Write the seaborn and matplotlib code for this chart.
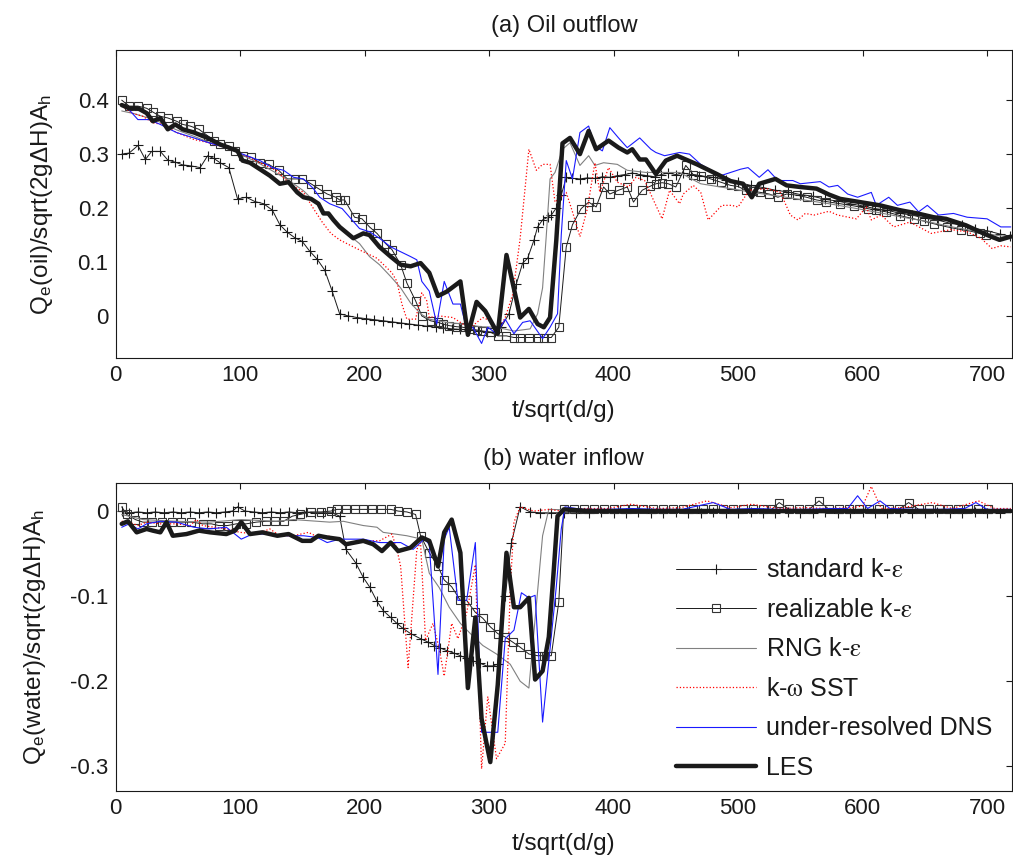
import numpy as np
import seaborn as sns
import matplotlib
matplotlib.use('Agg')
import matplotlib.pyplot as plt
from matplotlib.lines import Line2D

# %% data: (t/sqrt(d/g), Q) pairs
# (a) oil outflow
std_oil = [(5, 0.300), (11, 0.302), (18, 0.316), (24, 0.290), (29, 0.305), (36, 0.305), (42, 0.289), (48, 0.285),
           (54, 0.280), (61, 0.278), (68, 0.275), (74, 0.297), (79, 0.292), (84, 0.284), (91, 0.275), (98, 0.217),
           (105, 0.220), (112, 0.212), (119, 0.208), (126, 0.196), (132, 0.169), (138, 0.155), (144, 0.145),
           (150, 0.138), (156, 0.120), (162, 0.105), (168, 0.085), (174, 0.046), (180, 0.004), (187, 0.000),
           (194, -0.003), (201, -0.005), (208, -0.007), (215, -0.009), (222, -0.011), (229, -0.013), (236, -0.015),
           (243, -0.017), (250, -0.019), (257, -0.021), (263, -0.022), (270, -0.024), (277, -0.025), (284, -0.026),
           (291, -0.028), (298, -0.030), (305, -0.030), (310, -0.020), (316, 0.004), (322, 0.060), (327, 0.098),
           (331, 0.107), (336, 0.140), (339, 0.165), (343, 0.178), (347, 0.183), (350, 0.187), (354, 0.200),
           (358, 0.224), (362, 0.257), (367, 0.255), (373, 0.254), (379, 0.256), (385, 0.255), (391, 0.258),
           (397, 0.257), (403, 0.260), (409, 0.262), (415, 0.265), (421, 0.262), (427, 0.260), (433, 0.258),
           (438, 0.262), (444, 0.265), (450, 0.262), (456, 0.265), (462, 0.262), (469, 0.260), (480, 0.257),
           (490, 0.252), (500, 0.248), (510, 0.242), (520, 0.238), (530, 0.233), (540, 0.230), (550, 0.225),
           (560, 0.222), (570, 0.216), (580, 0.213), (590, 0.208), (600, 0.204), (610, 0.199), (620, 0.196),
           (630, 0.190), (640, 0.187), (650, 0.181), (660, 0.178), (670, 0.172), (680, 0.168), (690, 0.162),
           (700, 0.158), (710, 0.152), (718, 0.148)]
real_oil = [(5, 0.400), (11, 0.389), (18, 0.389), (25, 0.385), (30, 0.378), (36, 0.370), (42, 0.367), (49, 0.361),
            (54, 0.355), (60, 0.352), (67, 0.346), (74, 0.334), (79, 0.325), (84, 0.318), (91, 0.315), (96, 0.306),
            (102, 0.297), (109, 0.294), (116, 0.284), (123, 0.281), (131, 0.270), (138, 0.254), (144, 0.254),
            (150, 0.254), (157, 0.245), (163, 0.236), (170, 0.226), (177, 0.220), (180, 0.215), (184, 0.215),
            (192, 0.183), (198, 0.180), (204, 0.165), (210, 0.153), (217, 0.134), (222, 0.123), (229, 0.095),
            (234, 0.061), (241, 0.028), (246, 0.000), (253, -0.009), (259, -0.012), (263, -0.015), (268, -0.018),
            (274, -0.020), (279, -0.021), (285, -0.024), (290, -0.026), (295, -0.028), (301, -0.030), (307, -0.037),
            (314, -0.037), (320, -0.040), (325, -0.040), (332, -0.040), (339, -0.040), (344, -0.040), (350, -0.040),
            (356, -0.021), (362, 0.128), (367, 0.169), (374, 0.199), (380, 0.211), (386, 0.202), (392, 0.239),
            (397, 0.226), (404, 0.233), (411, 0.239), (416, 0.211), (423, 0.233), (429, 0.240), (434, 0.245),
            (439, 0.247), (444, 0.245), (450, 0.239), (458, 0.279), (464, 0.262), (470, 0.260), (478, 0.254),
            (486, 0.248), (494, 0.242), (500, 0.240), (506, 0.233), (512, 0.231), (518, 0.229), (525, 0.226),
            (532, 0.220), (539, 0.226), (547, 0.224), (555, 0.220), (563, 0.215), (571, 0.212), (582, 0.208),
            (593, 0.204), (604, 0.199), (611, 0.196), (619, 0.193), (630, 0.186), (641, 0.180), (649, 0.176),
            (657, 0.171), (668, 0.165), (679, 0.160), (687, 0.157), (694, 0.153), (699, 0.150)]
rng_oil = [(5, 0.380), (15, 0.375), (25, 0.368), (35, 0.360), (49, 0.345), (63, 0.333), (75, 0.322), (89, 0.312),
           (102, 0.298), (116, 0.282), (129, 0.265), (140, 0.250), (151, 0.232), (163, 0.205), (172, 0.183),
           (182, 0.160), (196, 0.134), (204, 0.110), (212, 0.095), (221, 0.073), (229, 0.052), (237, 0.024),
           (245, 0.004), (252, -0.006), (266, -0.012), (279, -0.015), (293, -0.020), (306, -0.021), (320, -0.028),
           (333, -0.024), (339, 0.004), (343, 0.052), (346, 0.150), (349, 0.254), (353, 0.266), (359, 0.309),
           (365, 0.321), (373, 0.279), (380, 0.297), (385, 0.279), (392, 0.284), (403, 0.281), (411, 0.270),
           (426, 0.266), (453, 0.266), (470, 0.245), (494, 0.236), (514, 0.228), (533, 0.222), (553, 0.215),
           (573, 0.208), (593, 0.200), (612, 0.192), (632, 0.183), (652, 0.175), (672, 0.165), (691, 0.157),
           (706, 0.150), (719, 0.146)]
sst_oil = [(5, 0.390), (13, 0.376), (22, 0.370), (30, 0.358), (38, 0.355), (49, 0.340), (63, 0.327), (75, 0.321),
           (89, 0.312), (102, 0.300), (116, 0.284), (129, 0.270), (140, 0.245), (151, 0.229), (159, 0.199),
           (166, 0.174), (173, 0.153), (180, 0.141), (191, 0.128), (199, 0.119), (210, 0.107), (222, 0.080),
           (226, 0.064), (230, 0.022), (234, -0.006), (241, -0.006), (246, 0.043), (250, 0.028), (252, -0.003),
           (260, 0.000), (271, -0.003), (279, -0.015), (287, -0.018), (295, -0.003), (301, -0.009), (307, -0.028),
           (313, -0.003), (319, 0.040), (325, 0.144), (332, 0.309), (338, 0.270), (343, 0.281), (349, 0.281),
           (353, 0.211), (362, 0.229), (367, 0.193), (373, 0.147), (379, 0.199), (385, 0.284), (389, 0.229),
           (396, 0.275), (403, 0.248), (412, 0.239), (418, 0.257), (425, 0.251), (432, 0.215), (439, 0.180),
           (445, 0.233), (453, 0.208), (456, 0.226), (464, 0.242), (470, 0.229), (476, 0.178), (487, 0.205),
           (495, 0.205), (500, 0.202), (509, 0.233), (523, 0.236), (534, 0.229), (542, 0.187), (548, 0.178),
           (554, 0.190), (561, 0.187), (573, 0.194), (580, 0.187), (595, 0.180), (603, 0.202), (607, 0.178),
           (615, 0.187), (625, 0.165), (638, 0.174), (655, 0.153), (671, 0.160), (684, 0.156), (695, 0.144),
           (704, 0.125), (711, 0.130), (719, 0.128)]
dns_oil = [(5, 0.390), (11, 0.382), (18, 0.364), (27, 0.364), (36, 0.355), (49, 0.340), (63, 0.330), (75, 0.321),
           (89, 0.312), (102, 0.300), (116, 0.288), (126, 0.275), (135, 0.270), (143, 0.257), (151, 0.254),
           (159, 0.236), (164, 0.220), (172, 0.208), (182, 0.199), (196, 0.162), (204, 0.156), (212, 0.144),
           (221, 0.128), (229, 0.119), (237, 0.110), (242, 0.104), (246, 0.064), (252, 0.046), (258, -0.015),
           (264, 0.064), (271, 0.022), (277, 0.022), (282, -0.024), (287, -0.021), (294, -0.051), (299, -0.021),
           (306, -0.033), (313, -0.006), (320, -0.033), (327, -0.012), (333, -0.009), (343, -0.042), (349, -0.021),
           (355, 0.004), (358, 0.150), (362, 0.288), (367, 0.254), (373, 0.340), (380, 0.352), (385, 0.315),
           (391, 0.306), (397, 0.349), (404, 0.330), (411, 0.312), (421, 0.330), (430, 0.309), (434, 0.303),
           (441, 0.297), (453, 0.303), (461, 0.300), (470, 0.281), (486, 0.260), (502, 0.272), (508, 0.275),
           (517, 0.257), (524, 0.271), (532, 0.251), (544, 0.251), (550, 0.245), (566, 0.249), (573, 0.239),
           (580, 0.242), (588, 0.226), (596, 0.220), (607, 0.229), (611, 0.205), (621, 0.220), (628, 0.205),
           (638, 0.211), (645, 0.193), (652, 0.205), (661, 0.187), (673, 0.190), (684, 0.183), (700, 0.180),
           (711, 0.165), (719, 0.165)]
les_oil = [(5, 0.391), (11, 0.385), (18, 0.385), (25, 0.376), (30, 0.361), (36, 0.367), (42, 0.346), (48, 0.355),
           (54, 0.346), (63, 0.340), (74, 0.330), (84, 0.318), (91, 0.312), (98, 0.306), (102, 0.288), (108, 0.284),
           (116, 0.272), (124, 0.260), (132, 0.245), (139, 0.248), (146, 0.229), (151, 0.220), (157, 0.217),
           (163, 0.208), (167, 0.190), (171, 0.190), (175, 0.178), (180, 0.165), (191, 0.144), (199, 0.153),
           (204, 0.150), (212, 0.128), (221, 0.110), (229, 0.095), (237, 0.092), (245, 0.098), (252, 0.080),
           (259, 0.037), (266, 0.045), (277, 0.064), (283, -0.035), (290, 0.026), (297, 0.009), (307, -0.033),
           (314, 0.113), (321, 0.040), (325, -0.003), (332, 0.013), (339, -0.015), (344, -0.021), (349, -0.003),
           (354, 0.140), (359, 0.320), (365, 0.330), (373, 0.300), (380, 0.343), (386, 0.309), (396, 0.325),
           (404, 0.312), (411, 0.303), (415, 0.309), (421, 0.290), (426, 0.290), (434, 0.263), (442, 0.288),
           (451, 0.297), (460, 0.288), (467, 0.281), (475, 0.272), (483, 0.263), (488, 0.257), (494, 0.250),
           (504, 0.245), (511, 0.220), (517, 0.245), (530, 0.254), (539, 0.242), (550, 0.239), (563, 0.236),
           (573, 0.225), (582, 0.217), (598, 0.211), (614, 0.205), (630, 0.196), (644, 0.190), (657, 0.183),
           (667, 0.180), (683, 0.168), (700, 0.150), (710, 0.141), (719, 0.147)]

# (b) water inflow
std_water = [(5, 0.000), (11, -0.002), (18, -0.001), (25, -0.002), (32, -0.001), (39, -0.002), (46, -0.001),
             (53, -0.002), (60, -0.001), (67, -0.002), (74, -0.001), (81, -0.002), (88, -0.001), (94, 0.000),
             (98, 0.005), (104, 0.000), (111, -0.001), (118, -0.002), (125, -0.001), (132, -0.002), (139, -0.001),
             (146, -0.002), (153, -0.001), (160, -0.002), (167, -0.002), (174, -0.002), (180, -0.006), (185, -0.045),
             (193, -0.061), (199, -0.078), (204, -0.089), (210, -0.106), (215, -0.117), (221, -0.125), (226, -0.132),
             (231, -0.138), (237, -0.144), (245, -0.150), (251, -0.154), (256, -0.158), (261, -0.161), (266, -0.164),
             (272, -0.167), (277, -0.170), (282, -0.173), (287, -0.176), (293, -0.179), (298, -0.182), (303, -0.182),
             (307, -0.180), (313, -0.100), (318, -0.037), (325, 0.005), (333, -0.001), (341, -0.002), (350, -0.002),
             (360, -0.002), (370, -0.002), (380, -0.002), (390, -0.001), (400, -0.002), (410, -0.002), (420, -0.001),
             (430, -0.002), (440, -0.002), (450, -0.001), (460, -0.002), (470, -0.002), (480, -0.001), (490, -0.002),
             (500, -0.002), (510, -0.001), (520, -0.002), (530, -0.002), (540, -0.001), (550, -0.002), (560, -0.002),
             (570, -0.001), (580, -0.002), (590, -0.002), (600, -0.001), (610, -0.002), (620, -0.002), (630, -0.001),
             (640, -0.002), (650, -0.002), (660, -0.001), (670, -0.002), (680, -0.002), (690, -0.001), (700, -0.002),
             (710, -0.002)]
real_water = [(5, 0.005), (9, -0.004), (16, -0.010), (22, -0.013), (29, -0.013), (37, -0.013), (45, -0.013),
              (53, -0.013), (61, -0.013), (70, -0.015), (77, -0.015), (83, -0.017), (90, -0.017), (97, -0.015),
              (105, -0.015), (113, -0.013), (121, -0.012), (128, -0.012), (135, -0.012), (142, -0.006), (148, -0.004),
              (157, -0.001), (165, -0.001), (173, 0.000), (178, 0.002), (185, 0.002), (192, 0.002), (199, 0.002),
              (206, 0.002), (213, 0.002), (221, 0.002), (227, 0.000), (234, -0.001), (241, -0.004), (245, -0.029),
              (252, -0.049), (259, -0.065), (264, -0.081), (270, -0.089), (277, -0.105), (282, -0.105), (289, -0.119),
              (295, -0.126), (301, -0.136), (307, -0.144), (313, -0.148), (319, -0.154), (325, -0.160), (332, -0.168),
              (339, -0.170), (344, -0.170), (350, -0.170), (356, -0.107), (360, 0.002), (368, 0.002), (376, 0.002),
              (384, 0.002), (392, 0.002), (400, 0.002), (408, 0.002), (416, 0.002), (424, 0.002), (432, 0.002),
              (440, 0.002), (448, 0.002), (456, 0.002), (464, 0.002), (472, 0.002), (480, 0.002), (488, 0.002),
              (496, 0.002), (504, 0.002), (512, 0.002), (520, 0.002), (527, 0.002), (533, 0.010), (541, 0.002),
              (549, 0.002), (557, 0.002), (565, 0.012), (573, 0.002), (581, 0.002), (589, 0.002), (597, 0.002),
              (605, 0.002), (613, 0.002), (621, 0.002), (629, 0.002), (637, 0.010), (645, 0.002), (653, 0.002),
              (661, 0.002), (669, 0.002), (677, 0.002), (685, 0.002), (693, 0.002), (701, 0.002)]
rng_water = [(5, -0.004), (22, -0.010), (49, -0.012), (75, -0.013), (101, -0.010), (129, -0.012), (143, -0.010),
             (172, -0.013), (183, -0.012), (199, -0.017), (210, -0.019), (215, -0.025), (234, -0.029), (246, -0.033),
             (252, -0.073), (260, -0.090), (268, -0.113), (277, -0.132), (285, -0.144), (295, -0.158), (306, -0.168),
             (317, -0.180), (325, -0.200), (332, -0.208), (343, -0.029), (348, 0.002), (400, 0.000), (500, 0.000),
             (600, 0.000), (719, 0.000)]
sst_water = [(5, -0.012), (11, -0.013), (18, -0.017), (25, -0.013), (36, -0.015), (49, -0.015), (60, -0.017),
             (65, -0.010), (70, -0.017), (89, -0.021), (100, -0.025), (113, -0.027), (124, -0.021), (132, -0.029),
             (143, -0.029), (155, -0.025), (163, -0.031), (170, -0.029), (180, -0.033), (188, -0.039), (199, -0.035),
             (212, -0.035), (222, -0.027), (226, -0.045), (229, -0.065), (235, -0.184), (242, -0.045), (245, -0.037),
             (249, -0.152), (255, -0.132), (260, -0.162), (264, -0.194), (270, -0.132), (275, -0.150), (282, -0.120),
             (289, -0.063), (294, -0.303), (299, -0.218), (306, -0.291), (313, -0.273), (317, -0.093), (320, -0.013),
             (325, 0.005), (336, 0.000), (348, 0.002), (358, 0.000), (375, 0.003), (395, 0.003), (414, 0.008),
             (435, 0.003), (454, 0.004), (475, 0.012), (494, 0.004), (511, 0.008), (533, 0.003), (553, 0.004),
             (573, 0.003), (592, 0.004), (600, 0.006), (607, 0.029), (615, 0.003), (632, 0.004), (656, 0.010),
             (672, 0.003), (693, 0.012), (706, 0.003), (719, 0.003)]
dns_water = [(5, -0.019), (11, -0.015), (18, -0.021), (25, -0.015), (36, -0.012), (49, -0.013), (63, -0.019),
             (75, -0.021), (89, -0.019), (101, -0.033), (110, -0.027), (124, -0.027), (138, -0.029), (151, -0.029),
             (162, -0.031), (170, -0.037), (180, -0.033), (199, -0.033), (212, -0.037), (229, -0.037), (239, -0.045),
             (248, -0.033), (252, -0.039), (259, -0.192), (264, -0.033), (268, -0.019), (275, -0.105), (282, -0.105),
             (289, -0.037), (294, -0.260), (307, -0.260), (313, -0.150), (320, -0.140), (326, -0.096), (332, -0.102),
             (337, -0.099), (343, -0.248), (349, -0.162), (354, -0.089), (358, -0.021), (361, 0.005), (375, 0.002),
             (395, 0.002), (415, 0.003), (435, 0.002), (455, 0.002), (480, 0.010), (494, 0.002), (513, 0.003),
             (533, 0.002), (553, 0.002), (573, 0.003), (588, 0.003), (596, 0.018), (604, 0.003), (614, 0.012),
             (622, 0.003), (642, 0.002), (662, 0.002), (682, 0.003), (691, 0.010), (700, 0.002), (719, 0.002)]
les_water = [(5, -0.015), (10, -0.012), (17, -0.025), (25, -0.021), (30, -0.023), (36, -0.025), (41, -0.013),
             (46, -0.029), (57, -0.027), (67, -0.023), (76, -0.025), (89, -0.027), (96, -0.023), (101, -0.013),
             (108, -0.027), (118, -0.025), (130, -0.029), (139, -0.027), (150, -0.035), (157, -0.035), (163, -0.029),
             (170, -0.031), (180, -0.033), (185, -0.039), (199, -0.035), (207, -0.039), (214, -0.047), (221, -0.037),
             (227, -0.047), (237, -0.043), (246, -0.031), (252, -0.035), (259, -0.065), (264, -0.025), (270, -0.010),
             (277, -0.049), (283, -0.208), (289, -0.125), (294, -0.244), (301, -0.295), (307, -0.204), (314, -0.049),
             (320, -0.113), (325, -0.113), (332, -0.102), (337, -0.198), (343, -0.188), (348, -0.148), (352, -0.069),
             (355, -0.006), (360, 0.002), (380, 0.000), (420, 0.000), (480, 0.000), (560, 0.000), (640, 0.000),
             (719, 0.000)]

labels = ['standard k-$\\mathrm{\\varepsilon}$', 'realizable k-$\\mathrm{\\varepsilon}$',
          'RNG k-$\\mathrm{\\varepsilon}$', 'k-$\\mathrm{\\omega}$ SST', 'under-resolved DNS', 'LES']
xticks = [0, 100, 200, 300, 400, 500, 600, 700]
oil_yticks = [0, 0.1, 0.2, 0.3, 0.4]
water_yticks = [-0.3, -0.2, -0.1, 0]

# %% style
sns.set_theme(style='white')
plt.rcParams['font.family'] = ['Liberation Sans', 'DejaVu Sans']
plt.rcParams['mathtext.fontset'] = 'stix'
plt.rcParams['axes.unicode_minus'] = False
plt.rcParams['text.color'] = 'k'
plt.rcParams['axes.labelcolor'] = 'k'
plt.rcParams['xtick.direction'] = 'in'
plt.rcParams['ytick.direction'] = 'in'
plt.rcParams['xtick.top'] = True
plt.rcParams['ytick.right'] = True

styles = [dict(color='k', linewidth=0.7, marker='+', markersize=7, markeredgecolor='k', markeredgewidth=0.8),
          dict(color='k', linewidth=0.7, marker='s', markersize=6, markerfacecolor='none',
               markeredgecolor='#333333', markeredgewidth=0.8),
          dict(color='#808080', linewidth=0.8),
          dict(color='#ff0000', linewidth=0.9, linestyle=':'),
          dict(color='#1a1aff', linewidth=0.8),
          dict(color='k', linewidth=3.2)]

fig = plt.figure(figsize=(10.13, 8.63), dpi=100)
ax1 = fig.add_axes([115.5 / 1013, (863 - 358) / 863, 896.5 / 1013, 308 / 863])
ax2 = fig.add_axes([115.5 / 1013, (863 - 791) / 863, 896.5 / 1013, 308 / 863])


def draw(ax, series):
    for s, st in zip(series, styles):
        arr = np.array(s)
        sns.lineplot(x=arr[:, 0], y=arr[:, 1], ax=ax, legend=False,
                     sort=False, estimator=None, **st)


draw(ax1, [std_oil, real_oil, rng_oil, sst_oil, dns_oil, les_oil])
draw(ax2, [std_water, real_water, rng_water, sst_water, dns_water, les_water])

ax1.set_ylim(-0.078, 0.493)
ax2.set_ylim(-0.329, 0.033)
ax1.set_yticks(oil_yticks)
ax1.set_yticklabels(['0', '0.1', '0.2', '0.3', '0.4'])
ax2.set_yticks(water_yticks)
ax2.set_yticklabels(['-0.3', '-0.2', '-0.1', '0'])

for ax in (ax1, ax2):
    ax.set_xlim(0, 720)
    ax.set_xticks(xticks)
    ax.tick_params(which='both', length=4, width=0.8, labelsize=16, pad=5, colors='k')
    for sp in ax.spines.values():
        sp.set_color('k')
        sp.set_linewidth(0.8)
    ax.set_xlabel('t/sqrt(d/g)', fontsize=17.5, labelpad=10)

ax1.set_title('(a) Oil outflow', fontsize=17, pad=13)
ax2.set_title('(b) water inflow', fontsize=17, pad=13)
ax1.set_ylabel('Q$_\\mathregular{e}$(oil)/sqrt(2g\u0394H)A$_\\mathregular{h}$', fontsize=17.5, labelpad=16)
ax2.set_ylabel('Q$_\\mathregular{e}$(water)/sqrt(2g\u0394H)A$_\\mathregular{h}$', fontsize=17.5, labelpad=16)

handles = [Line2D([], [], **st) for st in styles]
ax2.legend(handles, labels, loc='upper left', bbox_to_anchor=(0.625, 0.755), frameon=False, fontsize=18,
           handlelength=3.2, handletextpad=0.4, labelspacing=0.62, numpoints=1,
           borderpad=0, borderaxespad=0)

fig.savefig('out.png', dpi=100)
